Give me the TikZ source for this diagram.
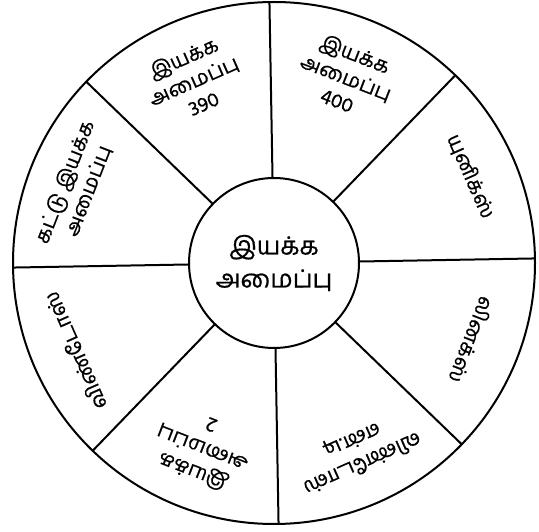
\documentclass[tikz,border=0pt]{standalone}
\usepackage{fontspec}
\newfontfamily\tamil[Script=Tamil,FakeBold=0.6]{Hind Madurai}
\begin{document}
\begin{tikzpicture}[x=1pt,y=1pt,
  ring/.style={circle, draw, line width=2pt, inner sep=0pt},
  spoke/.style={line width=2pt},
  sector/.style={font=\tamil\fontsize{20.5}{25}\selectfont, align=center, inner sep=1pt},
  hub/.style={font=\tamil\fontsize{25}{33}\selectfont, align=center}]
\useasboundingbox (0,0) rectangle (539,531);
\coordinate (c) at (274,268);
\node[ring, minimum size=522pt] (outer) at (c) {};
\node[ring, minimum size=170pt, hub] (inner) at (c) {இயக்க\\அமைப்பு};
\foreach \k in {0,...,7} {
  \pgfmathsetmacro\a{1.3+45*\k}
  \draw[spoke] (inner.\a) -- (outer.\a);
}
\node[sector, rotate=-66.2] (unix) at ([shift={(23.8:215)}]c) {யுனிக்ஸ்};
\node[sector, rotate=-21.2] (os400) at ([shift={(68.8:200)}]c) {இயக்க\\அமைப்பு\\400};
\node[sector, rotate=23.8] (os390) at ([shift={(113.8:200)}]c) {இயக்க\\அமைப்பு\\390};
\node[sector, rotate=68.8] (batch) at ([shift={(158.8:212)}]c) {கட்டு இயக்க\\அமைப்பு};
\node[sector, rotate=113.8] (win) at ([shift={(203.8:218)}]c) {விண்டோஸ்};
\node[sector, rotate=158.8] (os2) at ([shift={(248.8:200)}]c) {இயக்க\\அமைப்பு\\2};
\node[sector, rotate=203.8] (winnt) at ([shift={(293.8:206)}]c) {விண்டோஸ்\\என்.டி};
\node[sector, rotate=248.8] (linux) at ([shift={(338.8:212)}]c) {லினக்ஸ்};
\end{tikzpicture}
\end{document}
